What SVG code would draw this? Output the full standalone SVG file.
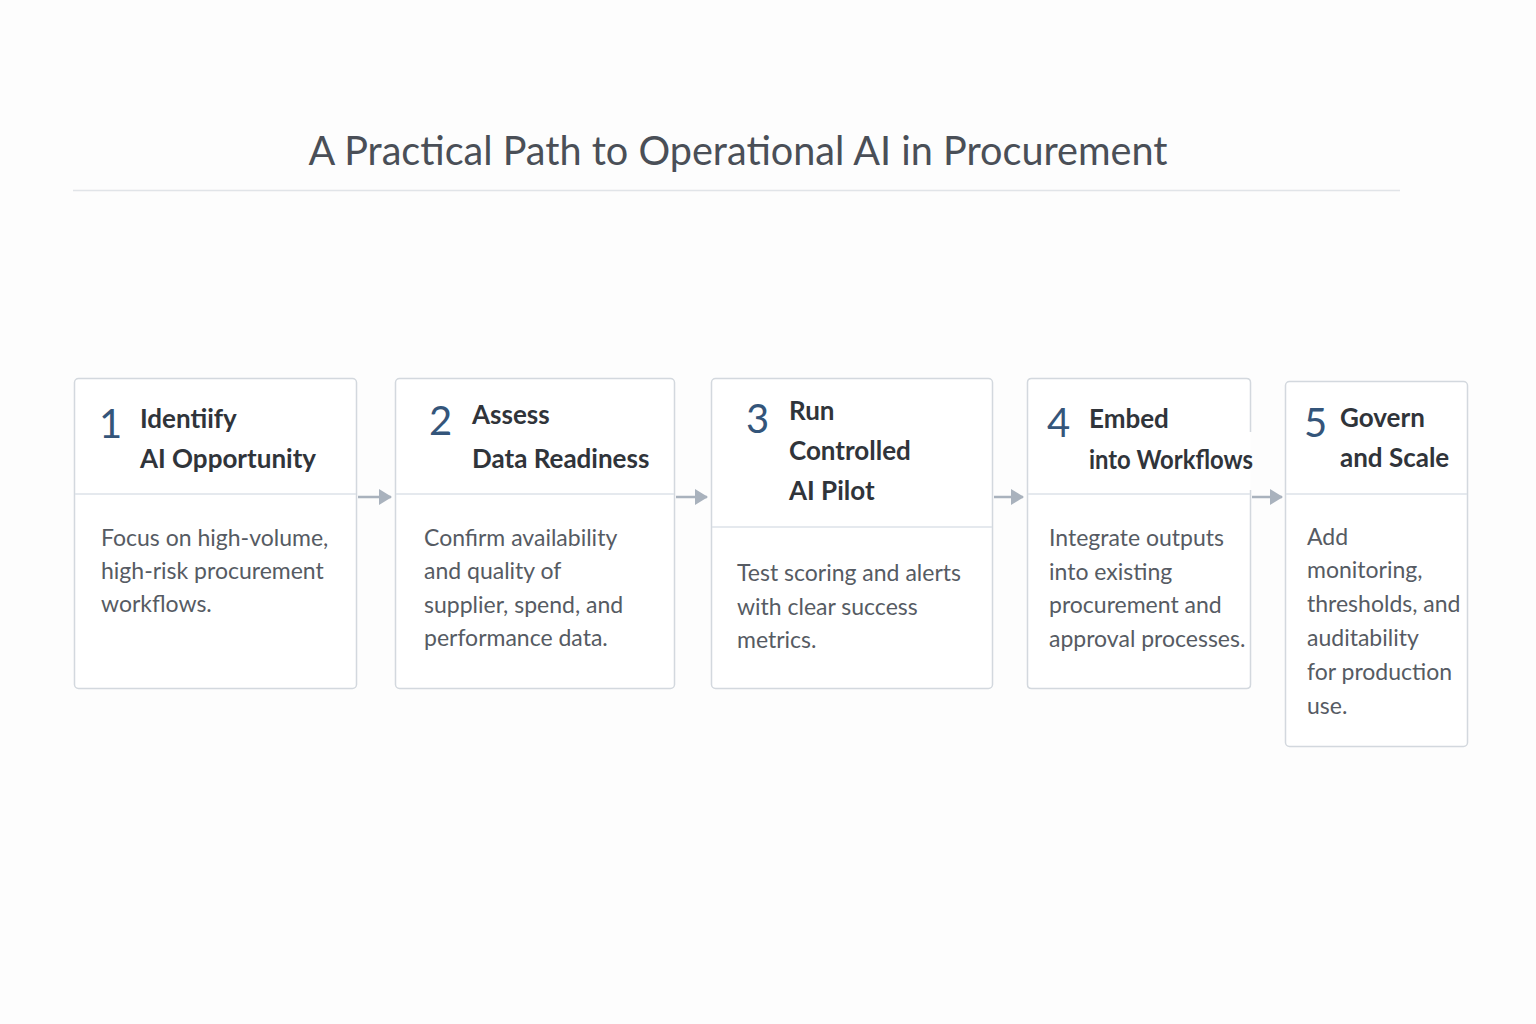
<svg xmlns="http://www.w3.org/2000/svg" width="1536" height="1024" viewBox="0 0 1536 1024">
<defs>
<marker id="ah" markerWidth="14" markerHeight="16" refX="12" refY="8" orient="auto" markerUnits="userSpaceOnUse">
<path d="M0,0 L13,8 L0,16 Z" fill="#a9b2bd"/>
</marker>
<style>
.box{fill:#ffffff;stroke:#d3d8de;stroke-width:1.5}
.div{stroke:#dde2e8;stroke-width:1.5}
.num{font-family:Lato,"Open Sans","Liberation Sans",sans-serif;font-size:40px;fill:#34557a;font-weight:400}
.ttl{font-family:Lato,"Open Sans","Liberation Sans",sans-serif;font-size:26px;font-weight:700;fill:#30343a}
.body{font-family:Lato,"Open Sans","Liberation Sans",sans-serif;font-size:23px;fill:#565b63}
.con{stroke:#a9b2bd;stroke-width:2.5;fill:none}
</style>
</defs>
<rect width="1536" height="1024" fill="#fdfdfd"/>
<text x="738" y="165" text-anchor="middle" font-family="Lato,'Open Sans','Liberation Sans',sans-serif" font-size="40" fill="#4a4f57" textLength="859" lengthAdjust="spacingAndGlyphs">A Practical Path to Operational AI in Procurement</text>
<line x1="73" y1="190.5" x2="1400" y2="190.5" stroke="#e1e4e8" stroke-width="1.5"/>

<g id="connectors">
<line class="con" x1="358" y1="497" x2="391" y2="497" marker-end="url(#ah)"/>
<line class="con" x1="676" y1="497" x2="707" y2="497" marker-end="url(#ah)"/>
<line class="con" x1="994" y1="497" x2="1023" y2="497" marker-end="url(#ah)"/>
<line class="con" x1="1252" y1="497" x2="1282" y2="497" marker-end="url(#ah)"/>
</g>

<g id="node1">
<rect class="box" x="74.5" y="378.5" width="282" height="310" rx="4"/>
<line class="div" x1="75" y1="494" x2="356" y2="494"/>
<text class="num" x="99" y="438">1</text>
<text class="ttl" x="140" y="428">Identiify</text>
<text class="ttl" x="140" y="468">AI Opportunity</text>
<text class="body" x="101" y="546">Focus on high-volume,</text>
<text class="body" x="101" y="579">high-risk procurement</text>
<text class="body" x="101" y="612">workflows.</text>
</g>

<g id="node2">
<rect class="box" x="395.5" y="378.5" width="279" height="310" rx="4"/>
<line class="div" x1="396" y1="494" x2="674" y2="494"/>
<text class="num" x="429" y="435">2</text>
<text class="ttl" x="472" y="424">Assess</text>
<text class="ttl" x="472" y="468">Data Readiness</text>
<text class="body" x="424" y="546">Confirm availability</text>
<text class="body" x="424" y="579">and quality of</text>
<text class="body" x="424" y="613">supplier, spend, and</text>
<text class="body" x="424" y="646">performance data.</text>
</g>

<g id="node3">
<rect class="box" x="711.5" y="378.5" width="281" height="310" rx="4"/>
<line class="div" x1="712" y1="527" x2="992" y2="527"/>
<text class="num" x="746" y="433">3</text>
<text class="ttl" x="789" y="420">Run</text>
<text class="ttl" x="789" y="460">Controlled</text>
<text class="ttl" x="789" y="500">AI Pilot</text>
<text class="body" x="737" y="581">Test scoring and alerts</text>
<text class="body" x="737" y="615">with clear success</text>
<text class="body" x="737" y="648">metrics.</text>
</g>

<g id="node4">
<path class="box" d="M1250.5,432 V382.5 Q1250.5,378.5 1246.5,378.5 H1031.5 Q1027.5,378.5 1027.5,382.5 V684.5 Q1027.5,688.5 1031.5,688.5 H1246.5 Q1250.5,688.5 1250.5,684.5 V490"/>
<line class="div" x1="1028" y1="494" x2="1250" y2="494"/>
<text class="num" x="1047" y="437">4</text>
<text class="ttl" x="1089" y="428">Embed</text>
<text class="ttl" x="1089" y="469" textLength="164" lengthAdjust="spacingAndGlyphs">into Workflows</text>
<text class="body" x="1049" y="546">Integrate outputs</text>
<text class="body" x="1049" y="580">into existing</text>
<text class="body" x="1049" y="613">procurement and</text>
<text class="body" x="1049" y="647">approval processes.</text>
</g>

<g id="node5">
<rect class="box" x="1285.5" y="381.5" width="182" height="365" rx="4"/>
<line class="div" x1="1286" y1="494" x2="1467" y2="494"/>
<text class="num" x="1304" y="437">5</text>
<text class="ttl" x="1340" y="427">Govern</text>
<text class="ttl" x="1340" y="467">and Scale</text>
<text class="body" x="1307" y="545">Add</text>
<text class="body" x="1307" y="578">monitoring,</text>
<text class="body" x="1307" y="612">thresholds, and</text>
<text class="body" x="1307" y="646">auditability</text>
<text class="body" x="1307" y="680">for production</text>
<text class="body" x="1307" y="714">use.</text>
</g>
</svg>
